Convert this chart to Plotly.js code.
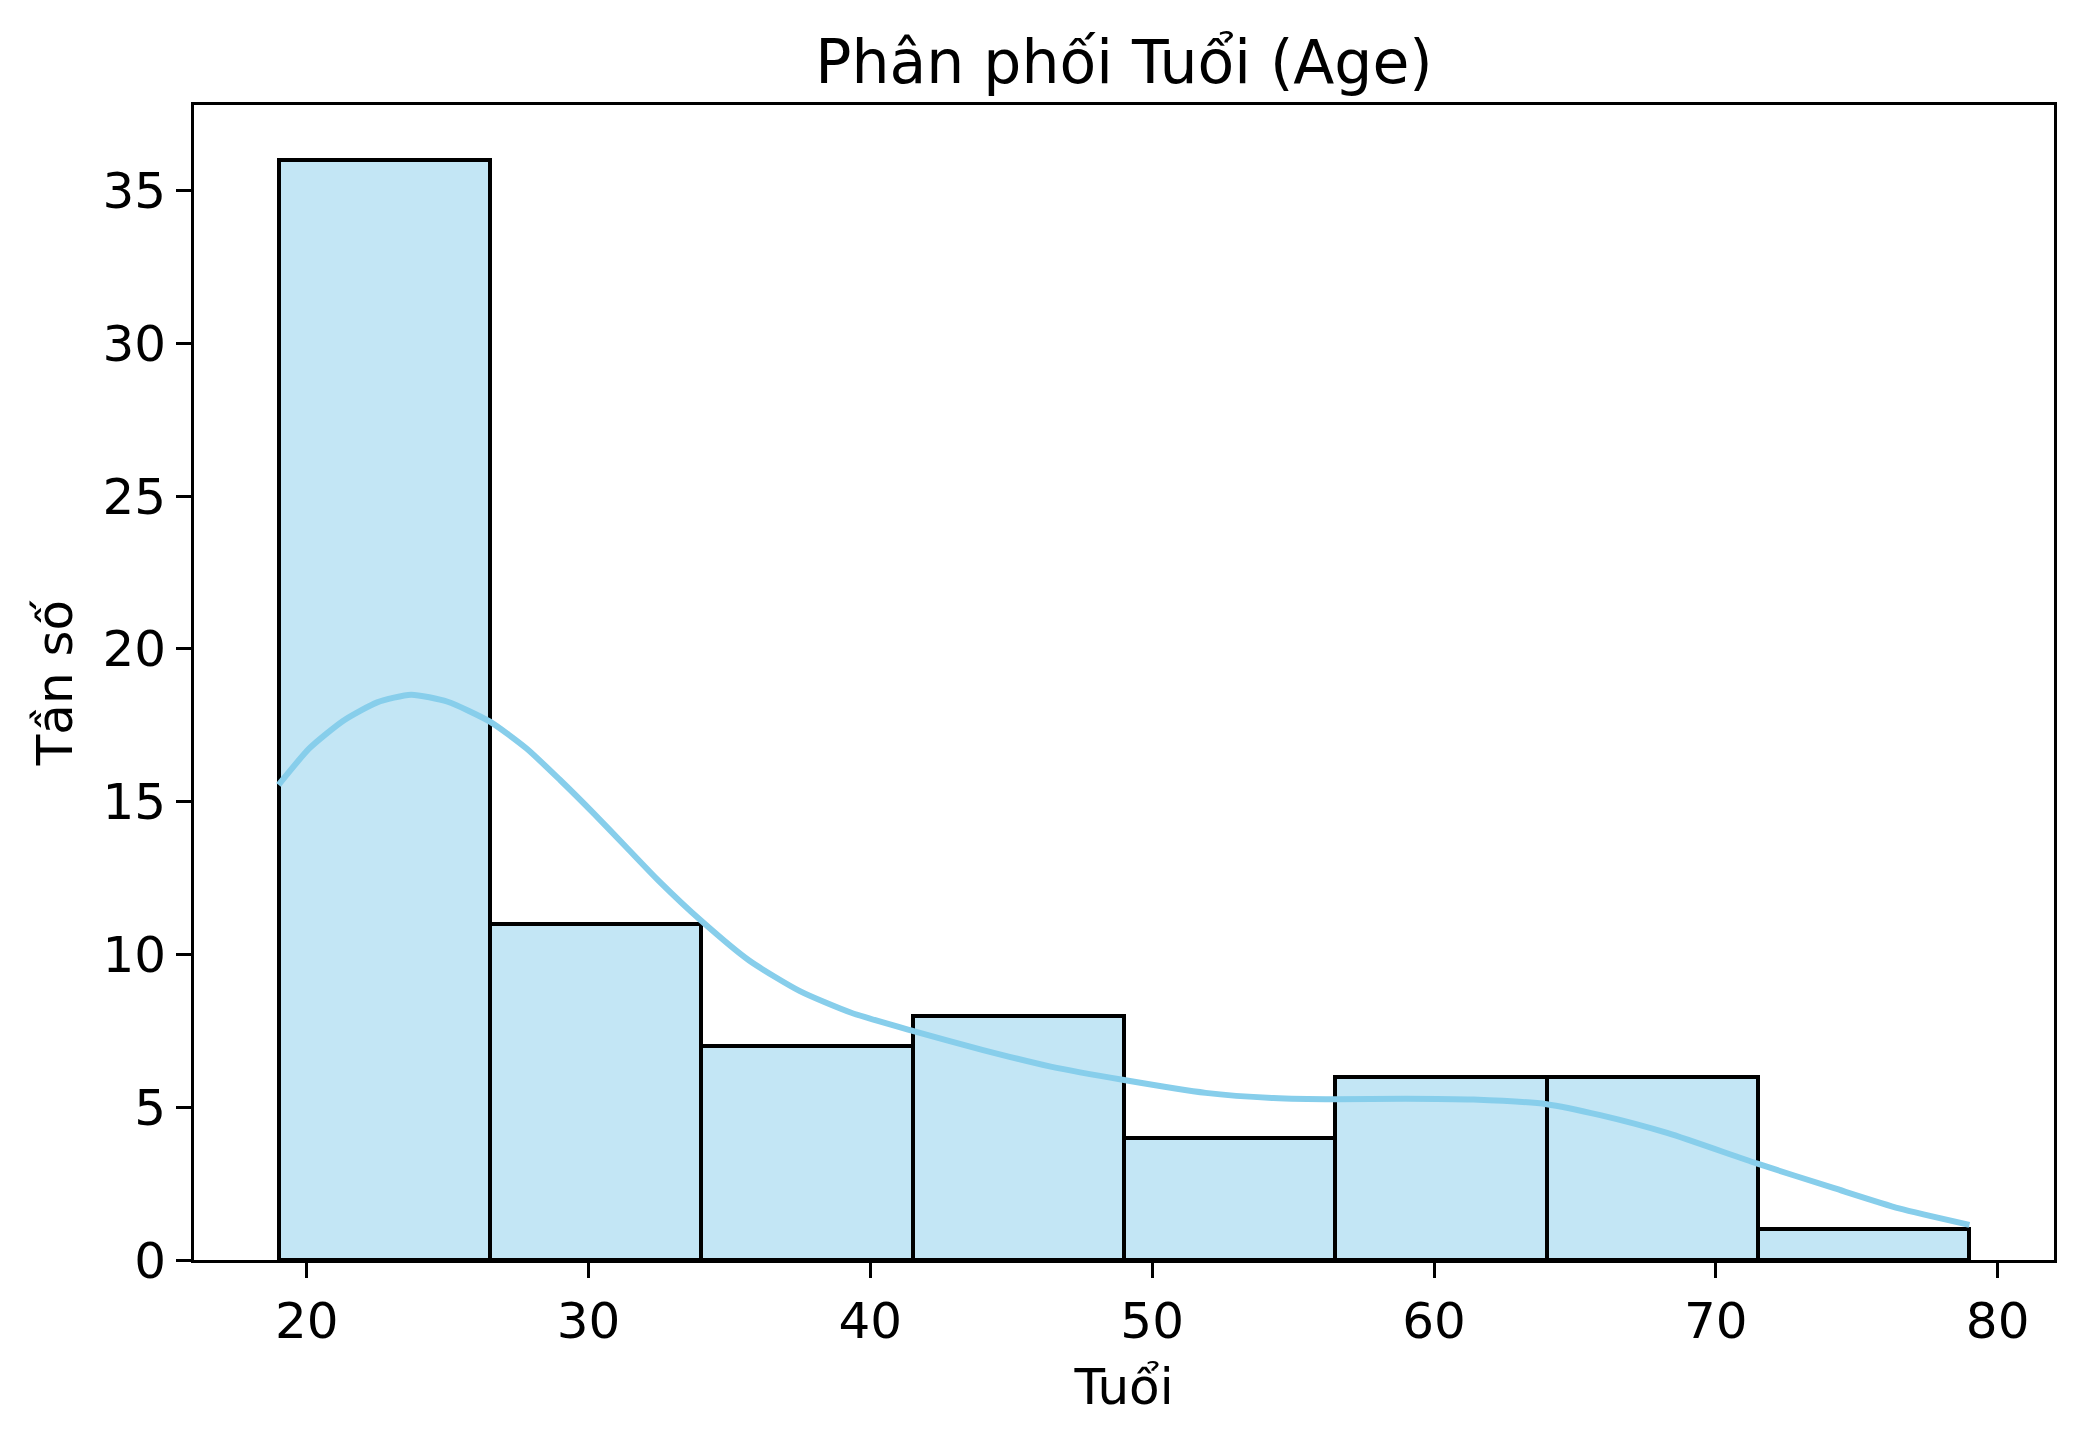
<!DOCTYPE html>
<html>
<head>
<meta charset="utf-8">
<script src="https://cdn.plot.ly/plotly-3.0.1.min.js"></script>
<style>
  html, body { margin: 0; padding: 0; background: white; }
  #plot { width: 2083px; height: 1443px; }
</style>
</head>
<body>
<div id="plot"></div>
<script>
// histogram bins (Age) and counts
const binEdges = [19, 26.5, 34, 41.5, 49, 56.5, 64, 71.5, 79];
const counts = [36, 11, 7, 8, 4, 6, 6, 1];

// KDE curve
const kdeX = [19, 20.1, 21.3, 22.5, 23.7, 25.0, 26.5, 27.8, 29.0, 30.2, 31.35, 32.5, 34.0, 35.7, 37.5, 39.3,
  41.5, 44.0, 46.4, 49.0, 51.9, 54.3, 56.5, 59.0, 61.4, 64.0, 65.9, 68.3, 71.45, 74.2, 76.5, 79];
const kdeY = [15.55, 16.75, 17.65, 18.25, 18.5, 18.27, 17.62, 16.74, 15.7, 14.6, 13.5, 12.4, 11.1, 9.8, 8.8, 8.1,
  7.5, 6.87, 6.33, 5.89, 5.47, 5.3, 5.26, 5.28, 5.25, 5.1, 4.74, 4.15, 3.16, 2.35, 1.69, 1.15];

const centers = [], widths = [];
for (let i = 0; i < counts.length; i++) {
  centers.push((binEdges[i] + binEdges[i + 1]) / 2);
  widths.push(binEdges[i + 1] - binEdges[i]);
}

const barTrace = {
  type: "bar",
  x: centers,
  y: counts,
  width: widths,
  marker: { color: "#c3e6f5", line: { color: "black", width: 4 } },
  hoverinfo: "x+y",
};

const kdeTrace = {
  type: "scatter",
  mode: "lines",
  x: kdeX,
  y: kdeY,
  line: { color: "#87ceeb", width: 6, shape: "spline", smoothing: 0.6 },
};

const font = "DejaVu Sans, sans-serif";

Plotly.newPlot("plot", [barTrace, kdeTrace], {
  width: 2083,
  height: 1443,
  paper_bgcolor: "white",
  plot_bgcolor: "white",
  showlegend: false,
  bargap: 0,
  margin: { l: 194, r: 29, t: 105, b: 183, pad: 0 },
  font: { family: font, color: "black", size: 50 },
  title: {
    text: "Phân phối Tuổi (Age)",
    font: { family: font, size: 60, color: "black" },
    x: 0.5,
    xref: "paper",
    y: 1 - 62 / 1443,
    yref: "container",
    yanchor: "middle",
  },
  xaxis: {
    range: [16, 82],
    dtick: 10,
    tick0: 0,
    ticks: "outside",
    ticklen: 15,
    tickwidth: 3,
    tickcolor: "black",
    showline: true,
    linewidth: 3,
    linecolor: "black",
    mirror: true,
    showgrid: false,
    zeroline: false,
    tickfont: { size: 50 },
    title: { text: "Tuổi", font: { size: 50 }, standoff: 20 },
  },
  yaxis: {
    range: [0, 37.8],
    dtick: 5,
    tick0: 0,
    ticks: "outside",
    ticklen: 15,
    tickwidth: 3,
    tickcolor: "black",
    showline: true,
    linewidth: 3,
    linecolor: "black",
    mirror: true,
    showgrid: false,
    zeroline: false,
    tickfont: { size: 50 },
    title: { text: "Tần số", font: { size: 50 }, standoff: 14 },
  },
}, { displayModeBar: false });
</script>
</body>
</html>
